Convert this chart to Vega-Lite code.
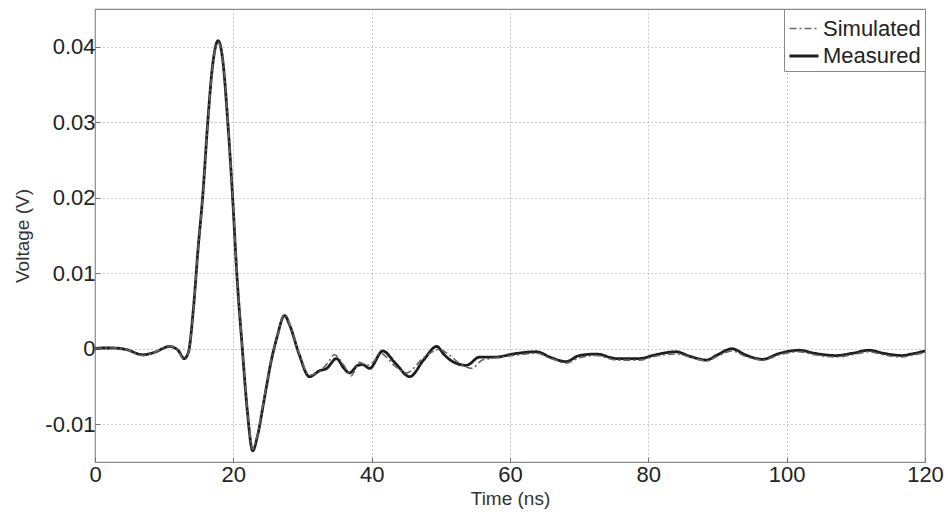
{
  "$schema": "https://vega.github.io/schema/vega-lite/v6.json",
  "width": 830,
  "height": 453,
  "autosize": "none",
  "padding": {"left": 95, "top": 9, "right": 23, "bottom": 53},
  "background": "white",
  "config": {
    "font": "Liberation Sans",
    "view": {"stroke": "#8a8a8a", "strokeWidth": 1.2},
    "axis": {
      "domain": false,
      "ticks": true,
      "tickSize": -5,
      "tickColor": "#777",
      "grid": true,
      "gridColor": "#9a9a9a",
      "gridDash": [1, 3],
      "gridWidth": 1,
      "labelFont": "Liberation Sans",
      "labelFontSize": 22,
      "labelColor": "#222",
      "labelFlush": false,
      "titleFont": "Liberation Sans",
      "titleFontSize": 19,
      "titleFontWeight": "normal",
      "titleColor": "#333"
    },
    "legend": {
      "orient": "top-right",
      "offset": 0,
      "title": null,
      "symbolType": "stroke",
      "symbolSize": 841,
      "labelFont": "Liberation Sans",
      "labelFontSize": 22,
      "labelColor": "#222",
      "strokeColor": "#888",
      "fillColor": "white",
      "padding": 4,
      "rowPadding": 0,
      "labelOffset": 3,
      "cornerRadius": 0
    }
  },
  "datasets": {
    "sig": [
      {"t": 0, "v": 0, "s": "Measured"},
      {"t": 1, "v": 0.0001, "s": "Measured"},
      {"t": 2.6, "v": 0.0001, "s": "Measured"},
      {"t": 4.5, "v": -0.0001, "s": "Measured"},
      {"t": 6.9, "v": -0.0008, "s": "Measured"},
      {"t": 8.5, "v": -0.0005, "s": "Measured"},
      {"t": 10.8, "v": 0.0003, "s": "Measured"},
      {"t": 12.0, "v": -0.0002, "s": "Measured"},
      {"t": 12.9, "v": -0.0013, "s": "Measured"},
      {"t": 13.5, "v": -0.0005, "s": "Measured"},
      {"t": 14.2, "v": 0.005, "s": "Measured"},
      {"t": 14.9, "v": 0.0132, "s": "Measured"},
      {"t": 15.6, "v": 0.0205, "s": "Measured"},
      {"t": 16.3, "v": 0.030, "s": "Measured"},
      {"t": 17.0, "v": 0.0375, "s": "Measured"},
      {"t": 17.8, "v": 0.0408, "s": "Measured"},
      {"t": 18.5, "v": 0.038, "s": "Measured"},
      {"t": 19.2, "v": 0.030, "s": "Measured"},
      {"t": 19.9, "v": 0.020, "s": "Measured"},
      {"t": 20.5, "v": 0.010, "s": "Measured"},
      {"t": 21.3, "v": 0.0, "s": "Measured"},
      {"t": 22.0, "v": -0.008, "s": "Measured"},
      {"t": 22.8, "v": -0.0135, "s": "Measured"},
      {"t": 23.5, "v": -0.0115, "s": "Measured"},
      {"t": 24.5, "v": -0.0065, "s": "Measured"},
      {"t": 25.5, "v": -0.0015, "s": "Measured"},
      {"t": 26.3, "v": 0.0015, "s": "Measured"},
      {"t": 27.4, "v": 0.0044, "s": "Measured"},
      {"t": 28.2, "v": 0.003, "s": "Measured"},
      {"t": 29.5, "v": -0.0007, "s": "Measured"},
      {"t": 31.0, "v": -0.0037, "s": "Measured"},
      {"t": 32.5, "v": -0.0029, "s": "Measured"},
      {"t": 33.5, "v": -0.0026, "s": "Measured"},
      {"t": 34.9, "v": -0.0013, "s": "Measured"},
      {"t": 36.0, "v": -0.0026, "s": "Measured"},
      {"t": 36.8, "v": -0.0032, "s": "Measured"},
      {"t": 38.0, "v": -0.0022, "s": "Measured"},
      {"t": 38.7, "v": -0.0021, "s": "Measured"},
      {"t": 39.7, "v": -0.0026, "s": "Measured"},
      {"t": 41.6, "v": -0.0003, "s": "Measured"},
      {"t": 43.5, "v": -0.002, "s": "Measured"},
      {"t": 45.5, "v": -0.0037, "s": "Measured"},
      {"t": 47.5, "v": -0.0015, "s": "Measured"},
      {"t": 49.4, "v": 0.0003, "s": "Measured"},
      {"t": 50.5, "v": -0.0008, "s": "Measured"},
      {"t": 51.7, "v": -0.0017, "s": "Measured"},
      {"t": 53.7, "v": -0.0022, "s": "Measured"},
      {"t": 55.6, "v": -0.0011, "s": "Measured"},
      {"t": 58.0, "v": -0.0011, "s": "Measured"},
      {"t": 60.4, "v": -0.0007, "s": "Measured"},
      {"t": 63.8, "v": -0.0004, "s": "Measured"},
      {"t": 66.0, "v": -0.0012, "s": "Measured"},
      {"t": 68.1, "v": -0.0017, "s": "Measured"},
      {"t": 70.0, "v": -0.0009, "s": "Measured"},
      {"t": 72.5, "v": -0.0007, "s": "Measured"},
      {"t": 75.4, "v": -0.0013, "s": "Measured"},
      {"t": 78.7, "v": -0.0013, "s": "Measured"},
      {"t": 81.0, "v": -0.0008, "s": "Measured"},
      {"t": 84.0, "v": -0.0004, "s": "Measured"},
      {"t": 86.0, "v": -0.001, "s": "Measured"},
      {"t": 88.4, "v": -0.0015, "s": "Measured"},
      {"t": 90.0, "v": -0.0008, "s": "Measured"},
      {"t": 92.1, "v": 0.0, "s": "Measured"},
      {"t": 94.0, "v": -0.0008, "s": "Measured"},
      {"t": 96.5, "v": -0.0014, "s": "Measured"},
      {"t": 99.0, "v": -0.0006, "s": "Measured"},
      {"t": 101.8, "v": -0.0002, "s": "Measured"},
      {"t": 104.0, "v": -0.0006, "s": "Measured"},
      {"t": 107.1, "v": -0.0009, "s": "Measured"},
      {"t": 109.5, "v": -0.0006, "s": "Measured"},
      {"t": 111.9, "v": -0.0002, "s": "Measured"},
      {"t": 114.0, "v": -0.0006, "s": "Measured"},
      {"t": 116.7, "v": -0.0009, "s": "Measured"},
      {"t": 118.0, "v": -0.0007, "s": "Measured"},
      {"t": 120.0, "v": -0.0003, "s": "Measured"},

      {"t": 0, "v": 0, "s": "Simulated"},
      {"t": 1, "v": 0.0001, "s": "Simulated"},
      {"t": 2.6, "v": 0.0001, "s": "Simulated"},
      {"t": 4.5, "v": -0.0001, "s": "Simulated"},
      {"t": 6.9, "v": -0.0009, "s": "Simulated"},
      {"t": 8.5, "v": -0.0005, "s": "Simulated"},
      {"t": 10.8, "v": 0.0003, "s": "Simulated"},
      {"t": 12.0, "v": -0.0002, "s": "Simulated"},
      {"t": 12.9, "v": -0.0015, "s": "Simulated"},
      {"t": 13.5, "v": -0.0006, "s": "Simulated"},
      {"t": 14.2, "v": 0.0048, "s": "Simulated"},
      {"t": 14.9, "v": 0.013, "s": "Simulated"},
      {"t": 15.6, "v": 0.0203, "s": "Simulated"},
      {"t": 16.3, "v": 0.0298, "s": "Simulated"},
      {"t": 17.0, "v": 0.0374, "s": "Simulated"},
      {"t": 17.8, "v": 0.0406, "s": "Simulated"},
      {"t": 18.5, "v": 0.0381, "s": "Simulated"},
      {"t": 19.2, "v": 0.0302, "s": "Simulated"},
      {"t": 19.9, "v": 0.0202, "s": "Simulated"},
      {"t": 20.5, "v": 0.0102, "s": "Simulated"},
      {"t": 21.3, "v": 0.0002, "s": "Simulated"},
      {"t": 22.0, "v": -0.0078, "s": "Simulated"},
      {"t": 22.8, "v": -0.0133, "s": "Simulated"},
      {"t": 23.5, "v": -0.0113, "s": "Simulated"},
      {"t": 24.5, "v": -0.0063, "s": "Simulated"},
      {"t": 25.5, "v": -0.0014, "s": "Simulated"},
      {"t": 26.3, "v": 0.0015, "s": "Simulated"},
      {"t": 27.4, "v": 0.0045, "s": "Simulated"},
      {"t": 28.2, "v": 0.0031, "s": "Simulated"},
      {"t": 29.5, "v": -0.0006, "s": "Simulated"},
      {"t": 31.0, "v": -0.0035, "s": "Simulated"},
      {"t": 32.5, "v": -0.003, "s": "Simulated"},
      {"t": 33.7, "v": -0.0018, "s": "Simulated"},
      {"t": 34.6, "v": -0.0008, "s": "Simulated"},
      {"t": 36.0, "v": -0.0022, "s": "Simulated"},
      {"t": 37.0, "v": -0.0036, "s": "Simulated"},
      {"t": 38.3, "v": -0.0018, "s": "Simulated"},
      {"t": 39.3, "v": -0.0022, "s": "Simulated"},
      {"t": 40.2, "v": -0.0018, "s": "Simulated"},
      {"t": 41.2, "v": -0.0006, "s": "Simulated"},
      {"t": 43.5, "v": -0.0024, "s": "Simulated"},
      {"t": 45.0, "v": -0.0032, "s": "Simulated"},
      {"t": 47.5, "v": -0.0012, "s": "Simulated"},
      {"t": 49.8, "v": -0.0001, "s": "Simulated"},
      {"t": 51.2, "v": -0.0008, "s": "Simulated"},
      {"t": 52.5, "v": -0.0018, "s": "Simulated"},
      {"t": 54.5, "v": -0.0026, "s": "Simulated"},
      {"t": 56.0, "v": -0.0015, "s": "Simulated"},
      {"t": 58.0, "v": -0.0012, "s": "Simulated"},
      {"t": 60.4, "v": -0.0009, "s": "Simulated"},
      {"t": 63.8, "v": -0.0006, "s": "Simulated"},
      {"t": 66.0, "v": -0.0013, "s": "Simulated"},
      {"t": 68.1, "v": -0.0019, "s": "Simulated"},
      {"t": 70.0, "v": -0.0012, "s": "Simulated"},
      {"t": 72.5, "v": -0.0009, "s": "Simulated"},
      {"t": 75.4, "v": -0.0015, "s": "Simulated"},
      {"t": 78.7, "v": -0.0015, "s": "Simulated"},
      {"t": 81.0, "v": -0.001, "s": "Simulated"},
      {"t": 84.0, "v": -0.0007, "s": "Simulated"},
      {"t": 86.0, "v": -0.0011, "s": "Simulated"},
      {"t": 88.4, "v": -0.0016, "s": "Simulated"},
      {"t": 90.0, "v": -0.001, "s": "Simulated"},
      {"t": 92.1, "v": -0.0003, "s": "Simulated"},
      {"t": 94.0, "v": -0.001, "s": "Simulated"},
      {"t": 96.5, "v": -0.0015, "s": "Simulated"},
      {"t": 99.0, "v": -0.0008, "s": "Simulated"},
      {"t": 101.8, "v": -0.0004, "s": "Simulated"},
      {"t": 104.0, "v": -0.0008, "s": "Simulated"},
      {"t": 107.1, "v": -0.0011, "s": "Simulated"},
      {"t": 109.5, "v": -0.0008, "s": "Simulated"},
      {"t": 111.9, "v": -0.0004, "s": "Simulated"},
      {"t": 114.0, "v": -0.0008, "s": "Simulated"},
      {"t": 116.7, "v": -0.0011, "s": "Simulated"},
      {"t": 118.0, "v": -0.0009, "s": "Simulated"},
      {"t": 120.0, "v": -0.0005, "s": "Simulated"}
    ]
  },
  "data": {"name": "sig"},
  "mark": {"type": "line", "interpolate": "monotone", "clip": true},
  "encoding": {
    "x": {
      "field": "t",
      "type": "quantitative",
      "scale": {"domain": [0, 120], "nice": false, "zero": false},
      "axis": {"title": "Time (ns)", "values": [0, 20, 40, 60, 80, 100, 120], "labelPadding": 7, "titlePadding": 4}
    },
    "y": {
      "field": "v",
      "type": "quantitative",
      "scale": {"domain": [-0.015, 0.045], "nice": false, "zero": false},
      "axis": {"title": "Voltage (V)", "values": [-0.01, 0, 0.01, 0.02, 0.03, 0.04], "labelPadding": 5, "titlePadding": 12,
        "labelExpr": "'' + datum.value"}
    },
    "color": {
      "field": "s",
      "type": "nominal",
      "scale": {"domain": ["Simulated", "Measured"], "range": ["#666666", "#1e1e1e"]}
    },
    "strokeDash": {
      "field": "s",
      "type": "nominal",
      "scale": {"domain": ["Simulated", "Measured"], "range": [[7, 3, 2, 3], [1, 0]]}
    },
    "strokeWidth": {
      "field": "s",
      "type": "nominal",
      "scale": {"domain": ["Simulated", "Measured"], "range": [1.6, 2.8]}
    },
    "order": {"field": "s", "type": "nominal", "sort": "ascending"}
  }
}
